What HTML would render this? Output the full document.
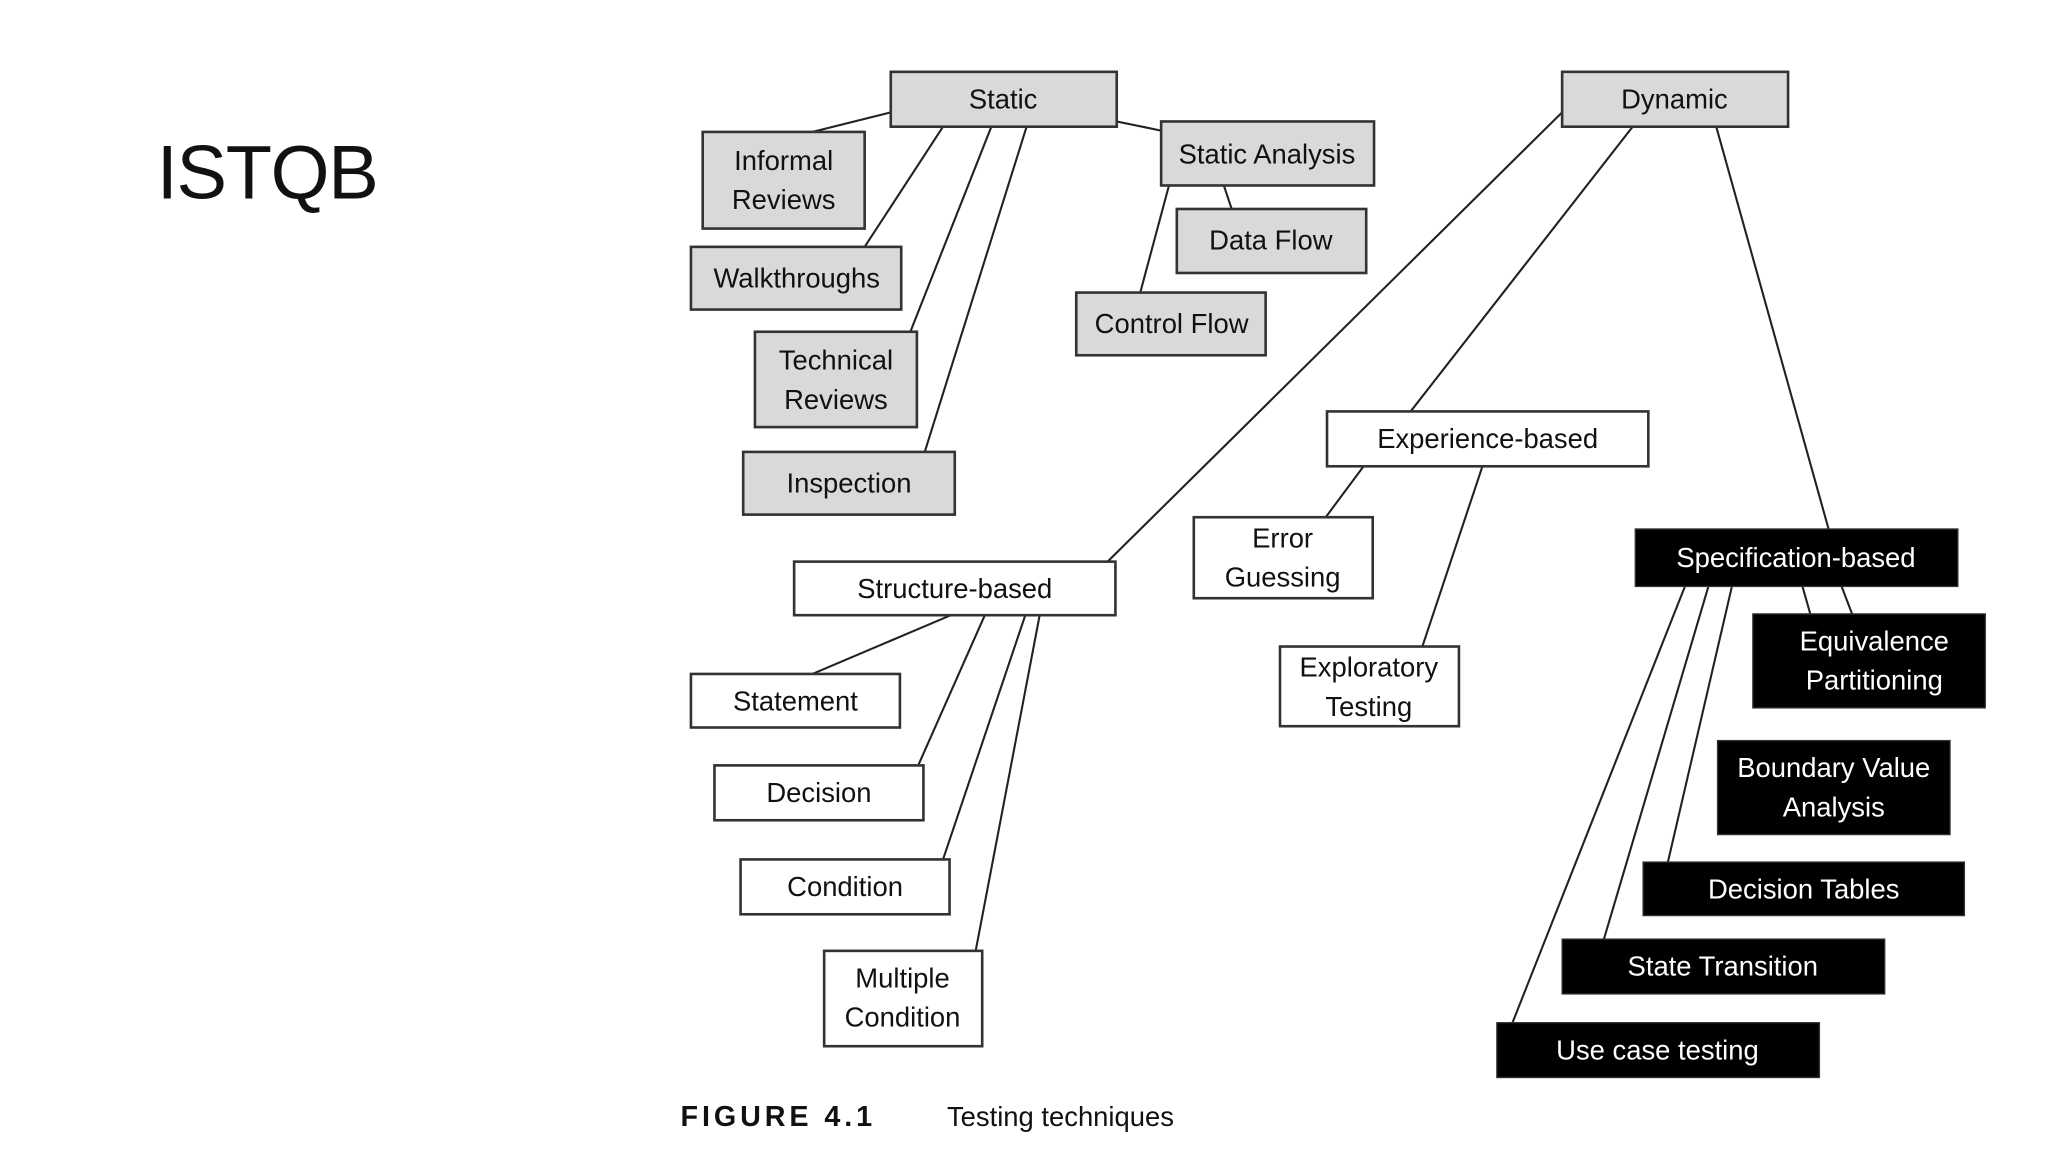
<!DOCTYPE html>
<html><head><meta charset="utf-8"><style>
html,body{margin:0;padding:0;background:#fff;}
svg{display:block}
text{font-family:"Liberation Sans",sans-serif;}
</style></head><body>
<svg width="2048" height="1152" viewBox="0 0 1568 882" xmlns="http://www.w3.org/2000/svg">
<rect width="1568" height="882" fill="#fff"/>
<text x="120" y="152" font-size="58" fill="#111" style="letter-spacing:-1px">ISTQB</text>
<g stroke="#222" stroke-width="1.6" fill="none">
<line x1="682" y1="86" x2="622" y2="101"/>
<line x1="722" y1="97" x2="662" y2="189"/>
<line x1="759" y1="97" x2="697" y2="254"/>
<line x1="786" y1="97" x2="708" y2="346"/>
<line x1="855" y1="93" x2="889" y2="100"/>
<line x1="895" y1="142" x2="873" y2="224"/>
<line x1="937" y1="142" x2="943" y2="160"/>
<line x1="1196" y1="86" x2="848" y2="430"/>
<line x1="1250" y1="97" x2="1080" y2="315"/>
<line x1="1314" y1="97" x2="1400" y2="405"/>
<line x1="1044" y1="357" x2="1015" y2="396"/>
<line x1="1135" y1="357" x2="1089" y2="495"/>
<line x1="728" y1="471" x2="622" y2="516"/>
<line x1="754" y1="471" x2="703" y2="586"/>
<line x1="785" y1="471" x2="722" y2="658"/>
<line x1="796" y1="471" x2="747" y2="728"/>
<line x1="1290" y1="449" x2="1158" y2="783"/>
<line x1="1308" y1="449" x2="1228" y2="719"/>
<line x1="1326" y1="449" x2="1277" y2="660"/>
<line x1="1380" y1="449" x2="1386" y2="470"/>
<line x1="1410" y1="449" x2="1418" y2="470"/>
</g>
<g stroke="#333" stroke-width="2" fill="#d9d9d9">
<rect x="682" y="55" width="173" height="42"/>
<rect x="538" y="101" width="124" height="74"/>
<rect x="529" y="189" width="161" height="48"/>
<rect x="578" y="254" width="124" height="73"/>
<rect x="569" y="346" width="162" height="48"/>
<rect x="889" y="93" width="163" height="49"/>
<rect x="901" y="160" width="145" height="49"/>
<rect x="824" y="224" width="145" height="48"/>
<rect x="1196" y="55" width="173" height="42"/>
</g>
<g stroke="#333" stroke-width="2" fill="#fff">
<rect x="1016" y="315" width="246" height="42"/>
<rect x="914" y="396" width="137" height="62"/>
<rect x="980" y="495" width="137" height="61"/>
<rect x="608" y="430" width="246" height="41"/>
<rect x="529" y="516" width="160" height="41"/>
<rect x="547" y="586" width="160" height="42"/>
<rect x="567" y="658" width="160" height="42"/>
<rect x="631" y="728" width="121" height="73"/>
</g>
<g fill="#000" stroke="#333" stroke-width="1">
<rect x="1252" y="405" width="247" height="44"/>
<rect x="1342" y="470" width="178" height="72"/>
<rect x="1315" y="567" width="178" height="72"/>
<rect x="1258" y="660" width="246" height="41"/>
<rect x="1196" y="719" width="247" height="42"/>
<rect x="1146" y="783" width="247" height="42"/>
</g>
<g font-size="21" fill="#111" text-anchor="middle">
<text x="768" y="83">Static</text>
<text x="600" y="130">Informal</text><text x="600" y="160">Reviews</text>
<text x="610" y="220">Walkthroughs</text>
<text x="640" y="283">Technical</text><text x="640" y="313">Reviews</text>
<text x="650" y="377">Inspection</text>
<text x="970" y="125">Static Analysis</text>
<text x="973" y="191">Data Flow</text>
<text x="897" y="255">Control Flow</text>
<text x="1282" y="83">Dynamic</text>
<text x="1139" y="343">Experience-based</text>
<text x="982" y="419">Error</text><text x="982" y="449">Guessing</text>
<text x="1048" y="518">Exploratory</text><text x="1048" y="548">Testing</text>
<text x="731" y="458">Structure-based</text>
<text x="609" y="544">Statement</text>
<text x="627" y="614">Decision</text>
<text x="647" y="686">Condition</text>
<text x="691" y="756">Multiple</text><text x="691" y="786">Condition</text>
</g>
<g font-size="21" fill="#fff" text-anchor="middle">
<text x="1375" y="434">Specification-based</text>
<text x="1435" y="498">Equivalence</text><text x="1435" y="528">Partitioning</text>
<text x="1404" y="595">Boundary Value</text><text x="1404" y="625">Analysis</text>
<text x="1381" y="688">Decision Tables</text>
<text x="1319" y="747">State Transition</text>
<text x="1269" y="811">Use case testing</text>
</g>
<text x="521" y="862" font-size="22" font-weight="bold" fill="#111" style="letter-spacing:3px">FIGURE 4.1</text>
<text x="725" y="862" font-size="21" fill="#111">Testing techniques</text>
</svg>
</body></html>
